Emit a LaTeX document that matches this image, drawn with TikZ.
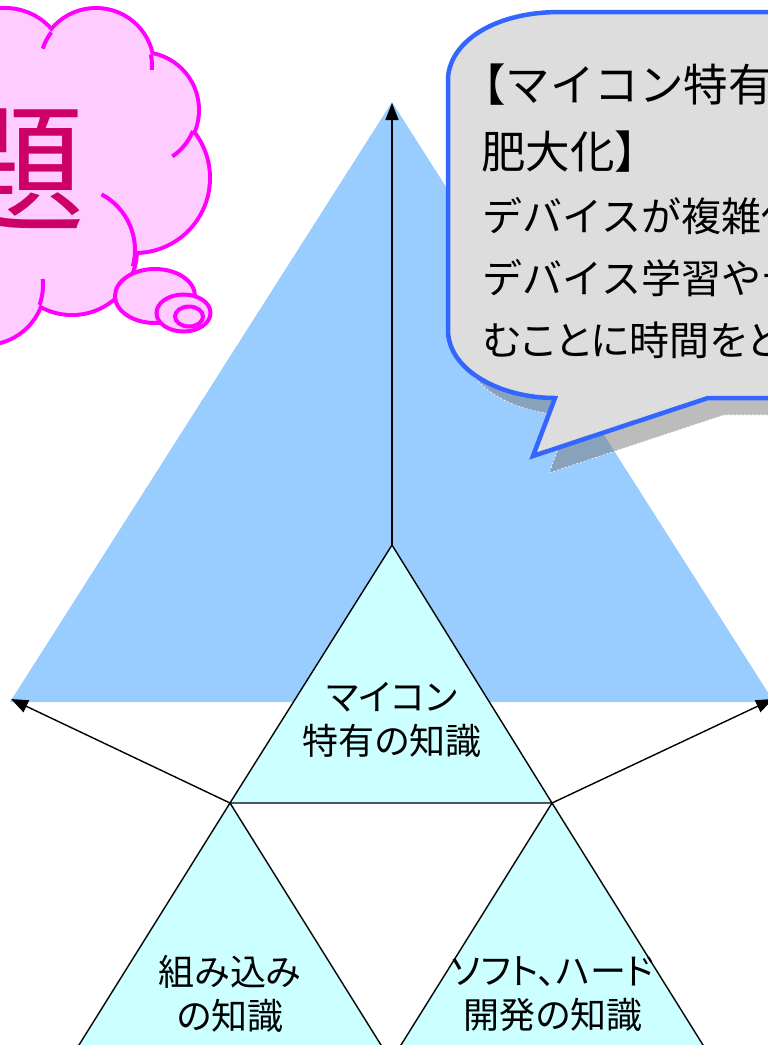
\documentclass[tikz,border=0pt]{standalone}
\usepackage{fontspec}
\setmainfont{Noto Sans CJK JP}
\newfontfamily\jpp{Noto Sans CJK JP}[RawFeature=+palt]
\usetikzlibrary{arrows.meta}
\definecolor{skyblue}{HTML}{99CCFF}
\definecolor{paleCyan}{HTML}{CCFFFF}
\definecolor{cloudFill}{HTML}{FFCCFF}
\definecolor{cloudLine}{HTML}{FF00FF}
\definecolor{titleRed}{HTML}{CC0066}
\definecolor{calloutFill}{HTML}{DDDDDD}
\definecolor{calloutLine}{HTML}{3366FF}
\definecolor{shadowGray}{RGB}{122,122,122}
\tikzset{
  tri/.style={draw=black, line width=1.4pt, fill=paleCyan, line join=miter},
  conn/.style={draw=black, line width=1.4pt, -{Triangle[length=17pt,width=13pt]}},
  cloudarc/.style={draw=cloudLine, line width=4pt},
  bubble/.style={draw=cloudLine, line width=4pt, fill=cloudFill},
  lbl/.style={inner sep=0pt, align=center, font=\jpp\fontsize{36}{44}\selectfont},
  head/.style={inner sep=0pt, anchor=west, font=\fontsize{44.5}{50}\selectfont},
  body/.style={inner sep=0pt, anchor=west, font=\fontsize{40}{46}\selectfont},
}
\begin{document}
\begin{tikzpicture}[x=1pt,y=-1pt]
\useasboundingbox (0,0) rectangle (768,1045);
% big blue triangle
\fill[skyblue] (392,102) -- (10,702) -- (774,702) -- cycle;
% cloud
\foreach \cx/\cy/\r in {5/70/60, 96/66/56, 141/110/56, 135/178/73, 72/250/63, -15/285/58}
  \draw[cloudLine, line width=8pt] (\cx,\cy) circle[radius=\r pt];
\foreach \cx/\cy/\r in {5/70/60, 96/66/56, 141/110/56, 135/178/73, 72/250/63, -15/285/58, 60/165/90}
  \fill[cloudFill] (\cx,\cy) circle[radius=\r pt];
\draw[cloudarc] ([shift={(143:56pt)}]96,66) arc[start angle=143, end angle=162, radius=56pt];
\draw[cloudarc] ([shift={(12:56pt)}]96,66) arc[start angle=12, end angle=-4, radius=56pt];
\draw[cloudarc] ([shift={(-22:56pt)}]141,110) arc[start angle=-22, end angle=-56, radius=56pt];
\draw[cloudarc] ([shift={(62:63pt)}]72,250) arc[start angle=62, end angle=-15, radius=63pt];
\draw[cloudarc] ([shift={(-20:58pt)}]-15,285) arc[start angle=-20, end angle=6, radius=58pt];
\draw[bubble] (155,296) ellipse[x radius=40pt, y radius=27pt];
\draw[bubble] (183.5,313) ellipse[x radius=27pt, y radius=18.5pt];
\draw[bubble] (189,316.5) ellipse[x radius=14pt, y radius=10pt];
\node[inner sep=0pt, text=titleRed, font=\fontsize{140}{150}\selectfont] (title) at (16,170) {題};
% knowledge triangles
\coordinate (top) at (392,545);
\coordinate (ml) at (230,803);
\coordinate (mr) at (552,803);
\coordinate (bm) at (391,1061);
\coordinate (bl) at (69,1061);
\coordinate (br) at (713,1061);
\coordinate (apex) at (392,103);
\coordinate (leftEnd) at (11,699);
\coordinate (rightEnd) at (773,699);
\draw[tri] (top) -- (ml) -- (mr) -- cycle;
\draw[tri] (ml) -- (bl) -- (bm) -- cycle;
\draw[tri] (mr) -- (bm) -- (br) -- cycle;
\draw[conn] (top) -- (apex);
\draw[conn] (ml) -- (leftEnd);
\draw[conn] (mr) -- (rightEnd);
\node[lbl] (micon) at (392,720) {マイコン\\特有の知識};
\node[lbl] (embed) at (230,994) {組み込み\\の知識};
\node[lbl] (dev) at (553,994) {ソフト、ハード\\開発の知識};
% callout shadow
\path[fill=shadowGray, fill opacity=0.5, draw=white, line width=0.6pt, dash pattern=on 2pt off 2pt, xshift=16pt, yshift=-17pt]
  (448,80) .. controls (448,45) and (490,12) .. (560,12) -- (790,12) -- (790,398) -- (708,398) -- (533,456) -- (555,398)
  .. controls (500,398) and (448,370) .. (448,330) -- cycle;
% callout
\path[fill=calloutFill, draw=calloutLine, line width=4.5pt, line join=miter]
  (448,80) .. controls (448,45) and (490,12) .. (560,12) -- (790,12) -- (790,398) -- (708,398) -- (533,456) -- (555,398)
  .. controls (500,398) and (448,370) .. (448,330) -- cycle;
\node[head] (h1) at (461,85) {【マイコン特有};
\node[head] (h2) at (481,152) {肥大化】};
\node[body] (b1) at (482,216) {デバイスが複雑化};
\node[body] (b2) at (482,278) {デバイス学習やデ};
\node[body, font=\jpp\fontsize{40}{46}\selectfont] (b3) at (483,340) {むことに時間をと};
\end{tikzpicture}
\end{document}
